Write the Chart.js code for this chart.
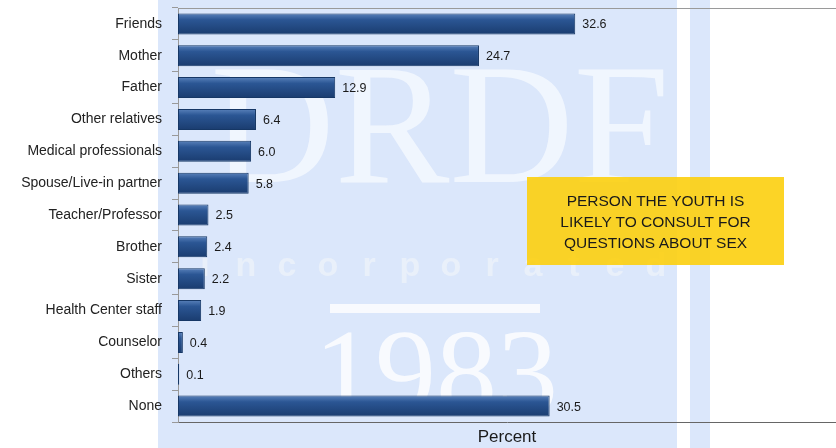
<!DOCTYPE html>
<html>
<head>
<meta charset="utf-8">
<script src="https://cdn.jsdelivr.net/npm/chart.js@4"></script>
<style>
  html, body { margin: 0; padding: 0; background: #fff; }
  #wrap { position: relative; width: 836px; height: 448px; }
  #note {
    position: absolute; left: 527px; top: 177px; width: 257px; height: 88px;
    background: rgba(252, 208, 20, 0.92);
    font-family: "Liberation Sans", Arial, sans-serif; font-size: 15.5px;
    color: #1a1a1a; text-align: center; line-height: 21px;
    display: flex; align-items: center; justify-content: center;
  }
</style>
</head>
<body>
<div id="wrap">
  <canvas id="chart" width="836" height="448"></canvas>
  <div id="note">PERSON THE YOUTH IS<br>LIKELY TO CONSULT FOR<br>QUESTIONS ABOUT SEX</div>
</div>
<script>
// Categorie e valori (percentuali)
const categories = ['Friends', 'Mother', 'Father', 'Other relatives', 'Medical professionals',
  'Spouse/Live-in partner', 'Teacher/Professor', 'Brother', 'Sister', 'Health Center staff',
  'Counselor', 'Others', 'None'];
const percentValues = [32.6, 24.7, 12.9, 6.4, 6.0, 5.8, 2.5, 2.4, 2.2, 1.9, 0.4, 0.1, 30.5];
const axisTitle = 'Percent';

// Sfondo con il logo in filigrana
const watermark = {
  id: 'watermark',
  beforeDraw(chart) {
    const c = chart.ctx;
    c.save();
    c.fillStyle = '#ffffff';
    c.fillRect(0, 0, chart.width, chart.height);
    c.fillStyle = '#dbe7fb';
    c.fillRect(158, 0, 519, chart.height);
    c.fillRect(690, 0, 20, chart.height);
    c.fillStyle = 'rgba(250,252,255,0.7)';
    c.textAlign = 'center';
    c.textBaseline = 'alphabetic';
    c.font = '172px "Liberation Serif", serif';
    c.fillText('DRDF', 440, 182);
    c.fillStyle = 'rgba(240,244,250,0.7)';
    c.font = 'bold 34px "Liberation Sans", sans-serif';
    const word = 'incorporated';
    for (let i = 0; i < word.length; i++) {
      c.fillText(word[i], 205 + i * 41, 276);
    }
    c.fillStyle = 'rgba(255,255,255,0.8)';
    c.fillRect(330, 304, 210, 9);
    c.font = '122px "Liberation Serif", serif';
    c.fillText('1983', 436, 414);
    c.restore();
  },
  // Sfumatura verticale sulle barre (effetto 3D), una per ogni barra
  beforeDatasetsDraw(chart) {
    const c = chart.ctx;
    chart.getDatasetMeta(0).data.forEach(bar => {
      const top = bar.y - bar.height / 2;
      const g = c.createLinearGradient(0, top, 0, top + bar.height);
      g.addColorStop(0, '#5a82bb');
      g.addColorStop(0.3, '#2b5694');
      g.addColorStop(1, '#1a3c6f');
      bar.options = Object.assign({}, bar.options, { backgroundColor: g });
    });
  },
  afterDraw(chart) {
    const a = chart.chartArea;
    const c = chart.ctx;
    c.save();
    c.strokeStyle = '#9a9a9a';
    c.lineWidth = 1;
    c.beginPath();
    c.moveTo(a.left, a.top + 0.5);
    c.lineTo(a.right, a.top + 0.5);
    c.stroke();
    c.restore();
  }
};

// Etichette dei valori alla fine delle barre
const valueLabels = {
  id: 'valueLabels',
  afterDatasetsDraw(chart) {
    const c = chart.ctx;
    const meta = chart.getDatasetMeta(0);
    c.save();
    c.fillStyle = '#1a1a1a';
    c.font = '12.5px "Liberation Sans", Arial, sans-serif';
    c.textBaseline = 'middle';
    meta.data.forEach((bar, i) => {
      c.fillText(percentValues[i].toFixed(1), bar.x + 7, bar.y + 1);
    });
    c.restore();
  }
};

const ctx = document.getElementById('chart').getContext('2d');
new Chart(ctx, {
  type: 'bar',
  data: {
    labels: categories,
    datasets: [{
      data: percentValues,
      backgroundColor: '#22497f',
      borderColor: '#163765',
      borderWidth: 1,
      borderSkipped: false,
      barPercentage: 0.66,
      categoryPercentage: 1
    }]
  },
  options: {
    indexAxis: 'y',
    responsive: false,
    animation: false,
    layout: { padding: { top: 8, right: 0, left: 0, bottom: 0 } },
    plugins: { legend: { display: false }, tooltip: { enabled: false } },
    scales: {
      x: {
        min: 0,
        max: 54,
        ticks: { display: false },
        grid: { display: false, drawTicks: false },
        border: { display: true, color: '#666', width: 1 },
        title: {
          display: true,
          text: axisTitle,
          color: '#1a1a1a',
          padding: { top: 0, bottom: 0 },
          font: { family: '"Liberation Sans", Arial, sans-serif', size: 17 }
        },
        afterFit(scale) { scale.height = 26; scale.paddingLeft = 0; scale.paddingRight = 0; }
      },
      y: {
        ticks: {
          color: '#222',
          padding: 10,
          font: { family: '"Liberation Sans", Arial, sans-serif', size: 14 }
        },
        grid: { offset: true, drawOnChartArea: false, tickLength: 6, color: '#999' },
        border: { display: true, color: '#999', width: 1 },
        afterFit(scale) { scale.width = 178; scale.paddingTop = 0; scale.paddingBottom = 0; }
      }
    }
  },
  plugins: [watermark, valueLabels]
});
</script>
</body>
</html>
